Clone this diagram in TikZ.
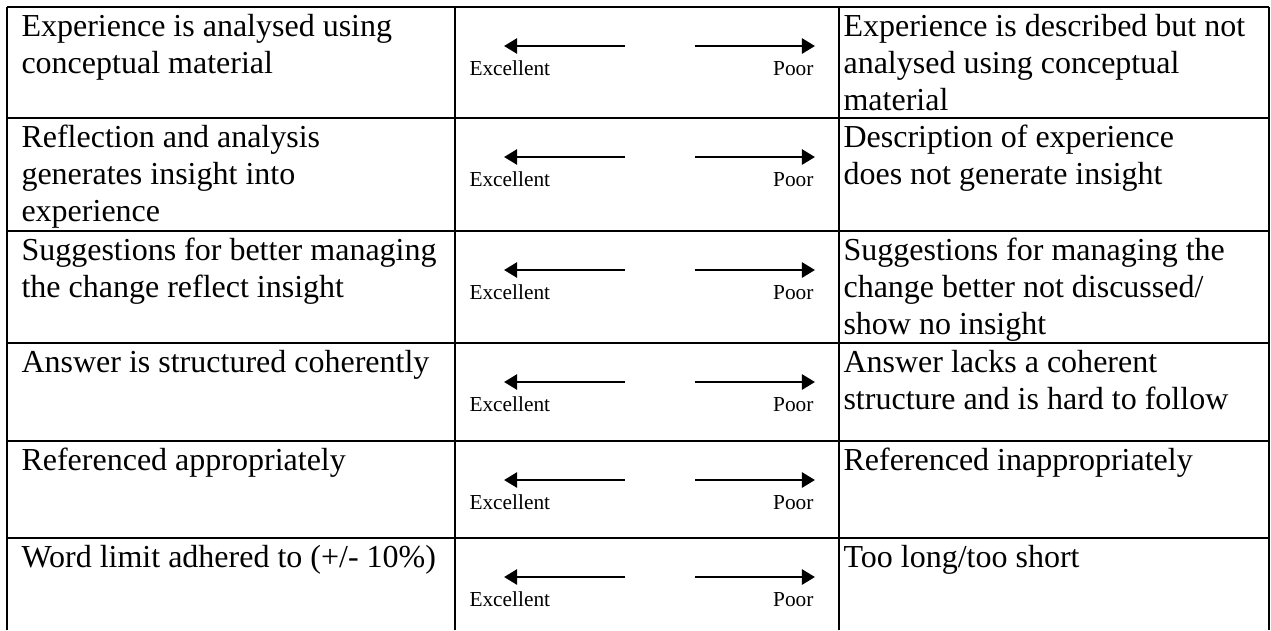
\documentclass[tikz,border=0pt]{standalone}
\usepackage{fontspec}
\setmainfont{Liberation Serif}
\usetikzlibrary{arrows.meta}

\begin{document}
\begin{tikzpicture}[x=0.375pt,y=-0.375pt]
\tikzstyle{every node}=[inner sep=0pt];
% base anchor sits on the last line of a cell
\tikzstyle{crit}=[anchor=base west,align=left,font=\fontsize{12}{13.8}\selectfont];
\tikzstyle{rating}=[font=\fontsize{8}{9.6}\selectfont];
\tikzstyle{rule}=[line width=1pt];
\tikzstyle{scalearrow}=[line width=1.1pt,-{Triangle[length=4.9pt,width=5.6pt]}];
\useasboundingbox (0,0) rectangle (1271,630);
% table rules, bottom left open
\foreach \y in {7,118,231,343,441,538}
	\draw[rule] (7,\y) -- (1269,\y);
\foreach \x in {7,455,839,1269}
	\draw[rule] (\x,7) -- (\x,630);
% criteria
\node[crit] (good1) at (21,73.5) {Experience is analysed using\\conceptual material};
\node[crit] (bad1) at (843,110.5) {Experience is described but not\\analysed using conceptual\\material};
\node[crit] (good2) at (21,221.5) {Reflection and analysis\\generates insight into\\experience};
\node[crit] (bad2) at (843,184.5) {Description of experience\\does not generate insight};
\node[crit] (good3) at (21,297.5) {Suggestions for better managing\\the change reflect insight};
\node[crit] (bad3) at (843,334.5) {Suggestions for managing the\\change better not discussed/\\show no insight};
\node[crit] (good4) at (21,372.5) {Answer is structured coherently};
\node[crit] (bad4) at (843,409.5) {Answer lacks a coherent\\structure and is hard to follow};
\node[crit] (good5) at (21,470.5) {Referenced appropriately};
\node[crit] (bad5) at (843,470.5) {Referenced inappropriately};
\node[crit] (good6) at (21,567.5) {Word limit adhered to (+/- 10\%)};
\node[crit] (bad6) at (843,567.5) {Too long/too short};
% rating scale in the middle column
\foreach \t [count=\i] in {7,118,231,343,441,538} {
	\coordinate (ls\i) at (625,\t+39);
	\coordinate (lt\i) at (504,\t+39);
	\coordinate (rs\i) at (695,\t+39);
	\coordinate (rt\i) at (815,\t+39);
	\draw[scalearrow] (ls\i) -- (lt\i);
	\draw[scalearrow] (rs\i) -- (rt\i);
	\node[rating,anchor=base west] (exc\i) at (469,\t+68) {Excellent};
	\node[rating,anchor=base east] (poor\i) at (814,\t+68) {Poor};
}
\end{tikzpicture}
\end{document}
